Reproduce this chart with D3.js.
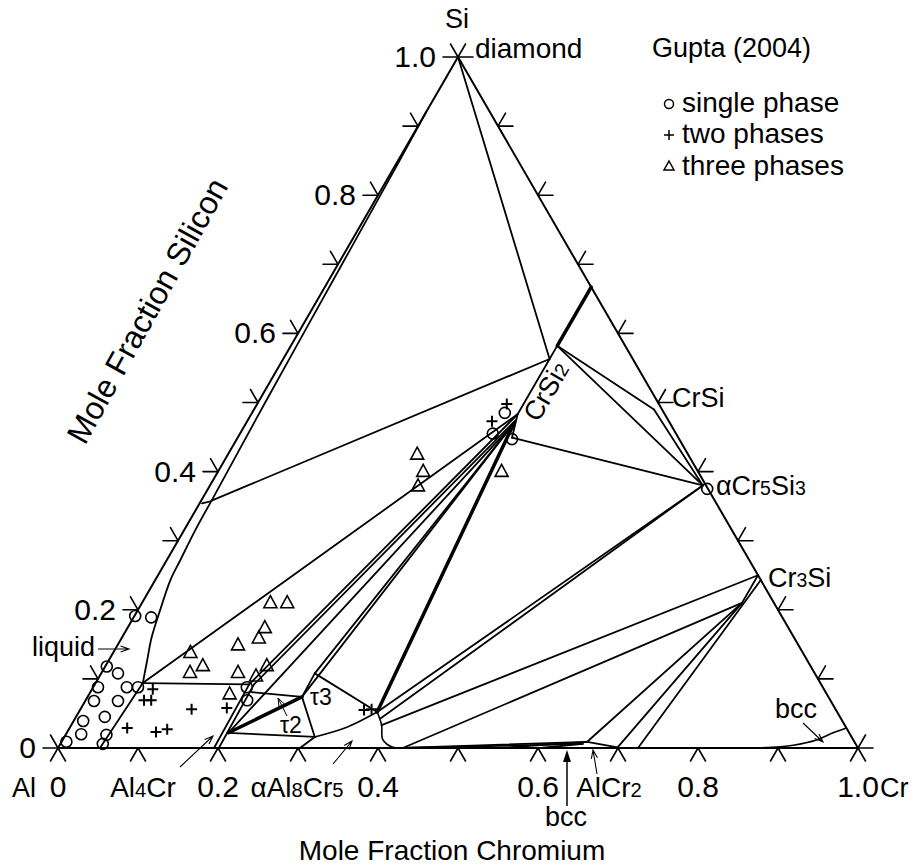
<!DOCTYPE html>
<html>
<head>
<meta charset="utf-8">
<script src="https://cdn.jsdelivr.net/npm/d3@7"></script>
<style>
  body { margin: 0; background: #fff; }
  text { font-family: "Liberation Sans", Arial, sans-serif; fill: #000; }
</style>
</head>
<body>
<svg id="chart" width="915" height="865"></svg>
<script>
// all compositions are [xCr, xSi] mole fractions, Al is the balance

const tickValues = d3.range(0, 1.0001, 0.1);
const labelValues = [0, 0.2, 0.4, 0.6, 0.8, 1.0];

const liquidAlSide = [[0.0525, 0], [0.059, 0.094]];
const liquidBoundary = [[0.059, 0.094], [0.048, 0.127], [0.037, 0.160], [0.028, 0.199],
  [0.019, 0.243], [0.017, 0.271], [0.014, 0.315], [0.013, 0.358]];
const liquidSiSide = [[0.013, 0.358], [0.009, 0.5], [0.005, 0.7], [0.002, 0.85], [0, 0.92]];
const crSi2Band = [[0.333, 0.582], [0.333, 0.563], [0.333, 0.483], [0.343, 0.449]];
const crSi2Heavy = [[0.333, 0.667], [0.333, 0.582]];
const bccBoundary = [[0.8775, 0], [0.917, 0.004], [0.943, 0.012], [0.958, 0.022], [0.971, 0.029]];
const alCrCurve = [[0.373, 0.052], [0.388, 0.033], [0.400, 0.012], [0.418, 0.001], [0.431, 0]];
const tau3Curve = [[0.313, 0.016], [0.346, 0.030], [0.373, 0.052]];

const tieLines = [
  [[0.003, 0.354], [0.012, 0.357]],
  [[0.013, 0.358], [0.333, 0.563]],
  [[0, 1], [0.333, 0.563]],
  [[0.059, 0.094], [0.333, 0.483]],
  [[0.059, 0.094], [0.193, 0.092]],
  [[0.333, 0.582], [0.5, 0.49]],
  [[0.333, 0.582], [0.616, 0.38]],
  [[0.5, 0.49], [0.616, 0.38]],
  [[0.343, 0.449], [0.616, 0.38]],
  [[0.616, 0.38], [0.373, 0.052]],
  [[0.616, 0.38], [0.382, 0.043]],
  [[0.75, 0.25], [0.388, 0.033]],
  [[0.75, 0.21], [0.431, 0]],
  [[0.75, 0.25], [0.75, 0.21]],
  [[0.657, 0.009], [0.75, 0.21]],
  [[0.699, 0.001], [0.75, 0.21]],
  [[0.725, 0], [0.757, 0.243]],
  [[0.657, 0.009], [0.699, 0.001]],
  [[0.431, 0], [0.657, 0.009]],
  [[0.431, 0], [0.653, 0.006]],
  [[0.5525, 0], [0.657, 0.009]],
  [[0.6025, 0], [0.653, 0.006]],
  [[0.195, 0], [0.193, 0.092]],
  [[0.201, 0], [0.199, 0.092]],
  [[0.193, 0.092], [0.333, 0.483]],
  [[0.199, 0.092], [0.335, 0.475]],
  [[0.202, 0.022], [0.313, 0.016]],
  [[0.202, 0.022], [0.335, 0.47]],
  [[0.201, 0.081], [0.268, 0.074]],
  [[0.268, 0.074], [0.313, 0.016]],
  [[0.268, 0.074], [0.267, 0.108]],
  [[0.267, 0.108], [0.373, 0.052]],
  [[0.313, 0.016], [0.3025, 0]],
  [[0.267, 0.108], [0.335, 0.47]],
  [[0.268, 0.074], [0.335, 0.47]]
];
const heavyLines = [
  [[0.335, 0.47], [0.373, 0.052]],
  [[0.202, 0.022], [0.268, 0.074]]
];

// Gupta (2004) samples
const singlePhase = [[0.006, 0.009], [0.019, 0.020], [0.053, 0.006], [0.051, 0.019], [0.012, 0.039],
  [0.036, 0.045], [0.011, 0.068], [0.041, 0.068], [0.006, 0.088], [0.042, 0.088], [0.056, 0.088],
  [0.021, 0.108], [0.002, 0.118], [0.001, 0.191], [0.022, 0.189], [0.192, 0.088], [0.202, 0.069],
  [0.316, 0.455], [0.316, 0.485], [0.344, 0.447], [0.624, 0.375]];
const twoPhase = [[0.076, 0.085], [0.073, 0.069], [0.082, 0.069], [0.139, 0.056], [0.182, 0.058],
  [0.072, 0.029], [0.111, 0.023], [0.123, 0.027], [0.355, 0.055], [0.364, 0.056],
  [0.306, 0.473], [0.312, 0.498]];
const threePhase = [[0.236, 0.426], [0.256, 0.401], [0.260, 0.380], [0.354, 0.401],
  [0.160, 0.211], [0.181, 0.211], [0.171, 0.175], [0.171, 0.160], [0.150, 0.150],
  [0.096, 0.139], [0.110, 0.110], [0.121, 0.120], [0.170, 0.110], [0.201, 0.120],
  [0.195, 0.105], [0.175, 0.079]];

const svg = d3.select("#chart");
const sx = d3.scaleLinear().domain([0, 1]).range([58, 858]);
const sy = d3.scaleLinear().domain([0, 1]).range([748, 57]);
const pt = d => [sx(d[0] + d[1] / 2), sy(d[1])];
const straight = d3.line().x(d => pt(d)[0]).y(d => pt(d)[1]);
const smooth = d3.line().x(d => pt(d)[0]).y(d => pt(d)[1]).curve(d3.curveCatmullRom);

const g = svg.append("g").attr("fill", "none").attr("stroke", "#000").attr("stroke-linecap", "round").attr("stroke-linejoin", "round");

// triangle frame
g.append("path").attr("d", straight([[0, 0], [1, 0], [0, 1], [0, 0]]) + "Z").attr("stroke-width", 2);

// ticks, little carets pointing outward
const L = 15;
function caret(p, dirs) {
  dirs.forEach(d => {
    g.append("line").attr("x1", p[0]).attr("y1", p[1])
      .attr("x2", p[0] + d[0] * L).attr("y2", p[1] + d[1] * L).attr("stroke-width", 1.6);
  });
}
tickValues.forEach(t => {
  caret(pt([t, 0]), [[0.5, 0.866], [-0.5, 0.866]]);
  caret(pt([0, t]), [[-1, 0], [-0.5, -0.866]]);
  caret(pt([1 - t, t]), [[1, 0], [0.5, -0.866]]);
});

// phase boundaries
g.append("path").attr("d", straight(liquidAlSide)).attr("stroke-width", 1.8);
g.append("path").attr("d", smooth(liquidBoundary)).attr("stroke-width", 1.8);
g.append("path").attr("d", smooth(liquidSiSide)).attr("stroke-width", 1.8);
g.append("path").attr("d", straight(crSi2Band)).attr("stroke-width", 1.8);
g.append("path").attr("d", straight(crSi2Heavy)).attr("stroke-width", 3.5);
g.append("path").attr("d", smooth(bccBoundary)).attr("stroke-width", 1.6);
g.append("path").attr("d", smooth(alCrCurve)).attr("stroke-width", 1.6);
g.append("path").attr("d", smooth(tau3Curve)).attr("stroke-width", 1.6);
g.selectAll(".tie").data(tieLines).enter().append("path")
  .attr("d", d => straight(d)).attr("stroke-width", 1.8);
g.selectAll(".heavy").data(heavyLines).enter().append("path")
  .attr("d", d => straight(d)).attr("stroke-width", 3.5);

// sample symbols
const m = svg.append("g").attr("fill", "none").attr("stroke", "#000").attr("stroke-width", 1.6);
m.selectAll("circle").data(singlePhase).enter().append("circle")
  .attr("cx", d => pt(d)[0]).attr("cy", d => pt(d)[1]).attr("r", 5.5);
const plusPath = "M-5.5,0H5.5M0,-5.5V5.5";
m.selectAll(".plus").data(twoPhase).enter().append("path")
  .attr("d", plusPath).attr("stroke-width", 2)
  .attr("transform", d => `translate(${pt(d)[0]},${pt(d)[1]})`);
const triPath = "M0,-6.5L6.5,5.5L-6.5,5.5Z";
m.selectAll(".tri").data(threePhase).enter().append("path")
  .attr("d", triPath)
  .attr("transform", d => `translate(${pt(d)[0]},${pt(d)[1]})`);

// text helpers
function label(x, y, parts, size, anchor) {
  const t = svg.append("text").attr("x", x).attr("y", y)
    .attr("font-size", size).attr("text-anchor", anchor || "start");
  parts.forEach(p => {
    const s = t.append("tspan").text(p[0]);
    if (p[1]) s.attr("font-size", size * 0.72);
  });
  return t;
}
function arrow(x1, y1, x2, y2, w) {
  const a = Math.atan2(y2 - y1, x2 - x1), h = 9;
  const p = d3.path();
  p.moveTo(x1, y1); p.lineTo(x2, y2);
  p.moveTo(x2 - h * Math.cos(a - 0.35), y2 - h * Math.sin(a - 0.35));
  p.lineTo(x2, y2);
  p.lineTo(x2 - h * Math.cos(a + 0.35), y2 - h * Math.sin(a + 0.35));
  svg.append("path").attr("d", p.toString()).attr("fill", "none")
    .attr("stroke", "#000").attr("stroke-width", w || 1.1);
}

// tick labels
labelValues.forEach((t, i) => {
  const lp = pt([0, t]);
  label(lp[0] - 22, lp[1] + 10, [[labelValues[i].toFixed(i === 0 ? 0 : 1)]], 30, "end");
  const bp = pt([t, 0]);
  label(bp[0], 797, [[labelValues[i].toFixed(i === 0 ? 0 : 1)]], 30, "middle");
});
label(12, 797, [["Al"]], 27);
label(880, 797, [["Cr"]], 27);
label(457, 28, [["Si"]], 27, "middle");
label(475, 58, [["diamond"]], 28);

// axis titles
label(452, 860, [["Mole Fraction Chromium"]], 28, "middle");
svg.append("text").attr("transform", "translate(157,316) rotate(-61)")
  .attr("font-size", 32).attr("text-anchor", "middle").text("Mole Fraction Silicon");

// legend
label(652, 57, [["Gupta (2004)"]], 27);
const lg = svg.append("g").attr("fill", "none").attr("stroke", "#000").attr("stroke-width", 1.5);
lg.append("circle").attr("cx", 669).attr("cy", 104).attr("r", 4.5);
lg.append("path").attr("d", "M664,135H674M669,130V140");
lg.append("path").attr("d", "M669,161L674,170L664,170Z");
label(682, 112, [["single phase"]], 28);
label(682, 143, [["two phases"]], 28);
label(682, 175, [["three phases"]], 28);

// phase labels
label(672, 407, [["CrSi"]], 27);
label(716, 495, [["\u03b1Cr"], ["5", 1], ["Si"], ["3", 1]], 27);
label(768, 587, [["Cr"], ["3", 1], ["Si"]], 27);
svg.append("text").attr("transform", "translate(554,396) rotate(-60)").attr("font-size", 27)
  .attr("text-anchor", "middle").call(t => {
    t.append("tspan").text("CrSi");
    t.append("tspan").attr("font-size", 19).text("2");
  });
label(310, 705, [["\u03c43"]], 23);
label(280, 733, [["\u03c42"]], 23);
arrow(287, 716, 278, 698, 1);
label(32, 656, [["liquid"]], 27);
arrow(98, 649, 129, 649);
label(775, 718, [["bcc"]], 27);
arrow(803, 723, 823, 742);
label(143, 797, [["Al"], ["4", 1], ["Cr"]], 28, "middle");
arrow(180, 767, 213, 736);
label(297, 797, [["\u03b1Al"], ["8", 1], ["Cr"], ["5", 1]], 28, "middle");
arrow(333, 764, 352, 741);
label(609, 797, [["AlCr"], ["2", 1]], 28, "middle");
arrow(597, 774, 593, 750);
label(566, 826, [["bcc"]], 27, "middle");
svg.append("line").attr("x1", 567).attr("y1", 806).attr("x2", 567).attr("y2", 760)
  .attr("stroke", "#000").attr("stroke-width", 1.5);
svg.append("path").attr("d", "M563,762L567,750L571,762Z").attr("fill", "#000");
</script>
</body>
</html>
